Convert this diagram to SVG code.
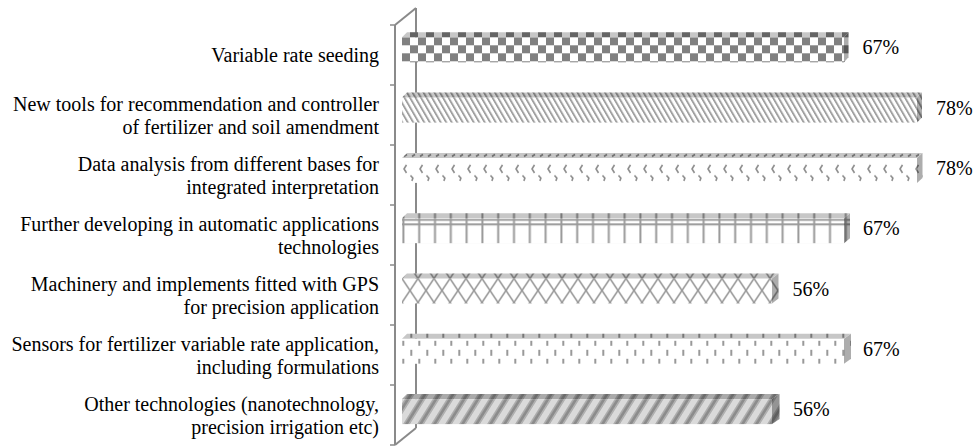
<svg xmlns="http://www.w3.org/2000/svg" width="975" height="447" viewBox="0 0 975 447">
<style>
  .lbl{font-family:"Liberation Serif","Times New Roman",serif;font-size:20px;fill:#000;text-anchor:end}
  .val{font-family:"Liberation Serif","Times New Roman",serif;font-size:20px;fill:#000}
  .wall{stroke:#8a8a8a;stroke-width:2;fill:none}
  .tick{stroke:#8a8a8a;stroke-width:1.5}
  .top{fill:#000;opacity:.22}
  .side{fill:#000;opacity:.32}
</style>
<defs>
  <!-- checkerboard -->
  <pattern id="p1" patternUnits="userSpaceOnUse" x="402" y="37.3" width="16" height="16">
    <rect width="16" height="16" fill="#fff"/>
    <rect width="8" height="8" fill="#808080"/>
    <rect x="8" y="8" width="8" height="8" fill="#808080"/>
  </pattern>
  <!-- downward diagonal stripes -->
  <pattern id="p2" patternUnits="userSpaceOnUse" x="402" y="97.6" width="5.5" height="10" patternTransform="skewX(30)">
    <rect width="5.5" height="10" fill="#fff"/>
    <rect width="2.2" height="10" fill="#a0a0a0"/>
  </pattern>
  <!-- scattered hooks -->
  <pattern id="p3" patternUnits="userSpaceOnUse" x="402" y="152.9" width="16" height="30">
    <rect width="16" height="30" fill="#fff"/>
    <path d="M2,3.5 l3,-2 M10,3.5 l3,-2 M4.5,12 L2,16 L4.5,20 M8.5,22.5 l2.4,2.6 l-1,3" fill="none" stroke="#8c8c8c" stroke-width="1.6"/>
  </pattern>
  <!-- rails and posts -->
  <pattern id="p4" patternUnits="userSpaceOnUse" x="402" y="218.2" width="15.8" height="25">
    <rect width="15.8" height="25" fill="#fff"/>
    <rect x="0.4" width="2" height="25" fill="#9a9a9a"/>
    <rect y="0.8" width="15.8" height="1.8" fill="#9a9a9a"/>
    <rect y="5.2" width="15.8" height="2" fill="#9a9a9a"/>
  </pattern>
  <!-- trellis -->
  <pattern id="p5" patternUnits="userSpaceOnUse" x="402" y="278.5" width="16" height="24">
    <rect width="16" height="24" fill="#fff"/>
    <path d="M-4,-6 L20,30 M20,-6 L-4,30" fill="none" stroke="#9a9a9a" stroke-width="1.6"/>
  </pattern>
  <!-- staggered dashes -->
  <pattern id="p6" patternUnits="userSpaceOnUse" x="402" y="338.8" width="16" height="18">
    <rect width="16" height="18" fill="#fff"/>
    <rect x="0.3" y="2" width="2" height="5" fill="#999"/>
    <rect x="8.3" y="11" width="2" height="6" fill="#999"/>
  </pattern>
  <!-- wide upward diagonal stripes -->
  <pattern id="p7" patternUnits="userSpaceOnUse" x="402" y="394.1" width="14" height="10" patternTransform="skewX(-32)">
    <rect width="14" height="10" fill="#dadada"/>
    <rect width="1.5" height="10" fill="#b0b0b0"/>
    <rect x="1.5" width="4" height="10" fill="#8c8c8c"/>
    <rect x="5.5" width="1.5" height="10" fill="#b0b0b0"/>
  </pattern>
</defs>

<!-- category axis wall -->
<g id="axis">
  <line class="wall" x1="395" y1="25" x2="395" y2="445"/>
  <line class="wall" x1="416" y1="8" x2="416" y2="428"/>
  <line class="wall" x1="395" y1="25" x2="416" y2="8"/>
  <line class="wall" x1="395" y1="445" x2="416" y2="428"/>
  <line class="tick" x1="390" y1="25" x2="395" y2="25"/>
  <line class="tick" x1="390" y1="85" x2="395" y2="85"/>
  <line class="tick" x1="390" y1="145" x2="395" y2="145"/>
  <line class="tick" x1="390" y1="205" x2="395" y2="205"/>
  <line class="tick" x1="390" y1="265" x2="395" y2="265"/>
  <line class="tick" x1="390" y1="325" x2="395" y2="325"/>
  <line class="tick" x1="390" y1="385" x2="395" y2="385"/>
  <line class="tick" x1="390" y1="445" x2="395" y2="445"/>
</g>

<g id="connectors"></g>

<g id="bar-1">
  <text class="lbl" x="379" y="62">Variable rate seeding</text>
  <rect x="402" y="37.3" width="442" height="25" fill="url(#p1)"/>
  <polygon points="402,37.3 407,32.3 848.5,32.3 844,37.3" fill="url(#p1)"/>
  <polygon class="top" points="402,37.3 407,32.3 848.5,32.3 844,37.3"/>
  <polygon points="844,37.3 848.5,32.3 848.5,57.3 844,62.3" fill="url(#p1)"/>
  <polygon class="side" points="844,37.3 848.5,32.3 848.5,57.3 844,62.3"/>
  <text class="val" x="862.5" y="54.3">67%</text>
</g>

<g id="bar-2">
  <text class="lbl" x="379" y="111">New tools for recommendation and controller</text>
  <text class="lbl" x="379" y="133.5">of fertilizer and soil amendment</text>
  <rect x="402" y="97.6" width="515" height="25" fill="url(#p2)"/>
  <polygon points="402,97.6 407,92.6 922,92.6 917,97.6" fill="url(#p2)"/>
  <polygon class="top" points="402,97.6 407,92.6 922,92.6 917,97.6"/>
  <polygon points="917,97.6 922,92.6 922,117.6 917,122.6" fill="url(#p2)"/>
  <polygon class="side" points="917,97.6 922,92.6 922,117.6 917,122.6"/>
  <text class="val" x="936" y="114.6">78%</text>
</g>

<g id="bar-3">
  <text class="lbl" x="379" y="171">Data analysis from different bases for</text>
  <text class="lbl" x="379" y="193.5">integrated interpretation</text>
  <rect x="402" y="157.9" width="515" height="25" fill="url(#p3)"/>
  <polygon points="402,157.9 407,152.9 922.5,152.9 917,157.9" fill="url(#p3)"/>
  <polygon class="top" points="402,157.9 407,152.9 922.5,152.9 917,157.9"/>
  <polygon points="917,157.9 922.5,152.9 922.5,177.9 917,182.9" fill="url(#p3)"/>
  <polygon class="side" points="917,157.9 922.5,152.9 922.5,177.9 917,182.9"/>
  <text class="val" x="936" y="174.9">78%</text>
</g>

<g id="bar-4">
  <text class="lbl" x="379" y="231">Further developing in automatic applications</text>
  <text class="lbl" x="379" y="253.5">technologies</text>
  <rect x="402" y="218.2" width="442" height="25" fill="url(#p4)"/>
  <polygon points="402,218.2 407,213.2 850,213.2 844,218.2" fill="url(#p4)"/>
  <polygon class="top" points="402,218.2 407,213.2 850,213.2 844,218.2"/>
  <polygon points="844,218.2 850,213.2 850,238.2 844,243.2" fill="url(#p4)"/>
  <polygon class="side" points="844,218.2 850,213.2 850,238.2 844,243.2"/>
  <text class="val" x="863" y="235.2">67%</text>
</g>

<g id="bar-5">
  <text class="lbl" x="379" y="291">Machinery and implements fitted with GPS</text>
  <text class="lbl" x="379" y="313.5">for precision application</text>
  <rect x="402" y="278.5" width="370" height="25" fill="url(#p5)"/>
  <polygon points="402,278.5 407,273.5 778.5,273.5 772,278.5" fill="url(#p5)"/>
  <polygon class="top" points="402,278.5 407,273.5 778.5,273.5 772,278.5"/>
  <polygon points="772,278.5 778.5,273.5 778.5,298.5 772,303.5" fill="url(#p5)"/>
  <polygon class="side" points="772,278.5 778.5,273.5 778.5,298.5 772,303.5"/>
  <text class="val" x="792.5" y="295.5">56%</text>
</g>

<g id="bar-6">
  <text class="lbl" x="379" y="351">Sensors for fertilizer variable rate application,</text>
  <text class="lbl" x="379" y="373.5">including formulations</text>
  <rect x="402" y="338.8" width="442" height="25" fill="url(#p6)"/>
  <polygon points="402,338.8 407,333.8 851,333.8 844,338.8" fill="url(#p6)"/>
  <polygon class="top" points="402,338.8 407,333.8 851,333.8 844,338.8"/>
  <polygon points="844,338.8 851,333.8 851,358.8 844,363.8" fill="url(#p6)"/>
  <polygon class="side" points="844,338.8 851,333.8 851,358.8 844,363.8"/>
  <text class="val" x="863" y="355.8">67%</text>
</g>

<g id="bar-7">
  <text class="lbl" x="379" y="411">Other technologies (nanotechnology,</text>
  <text class="lbl" x="379" y="433.5">precision irrigation etc)</text>
  <rect x="402" y="399.1" width="370" height="25" fill="url(#p7)"/>
  <polygon points="402,399.1 407,394.1 779.5,394.1 772,399.1" fill="url(#p7)"/>
  <polygon class="top" points="402,399.1 407,394.1 779.5,394.1 772,399.1"/>
  <polygon points="772,399.1 779.5,394.1 779.5,419.1 772,424.1" fill="url(#p7)"/>
  <polygon class="side" points="772,399.1 779.5,394.1 779.5,419.1 772,424.1"/>
  <text class="val" x="793" y="416.1">56%</text>
</g>
</svg>
